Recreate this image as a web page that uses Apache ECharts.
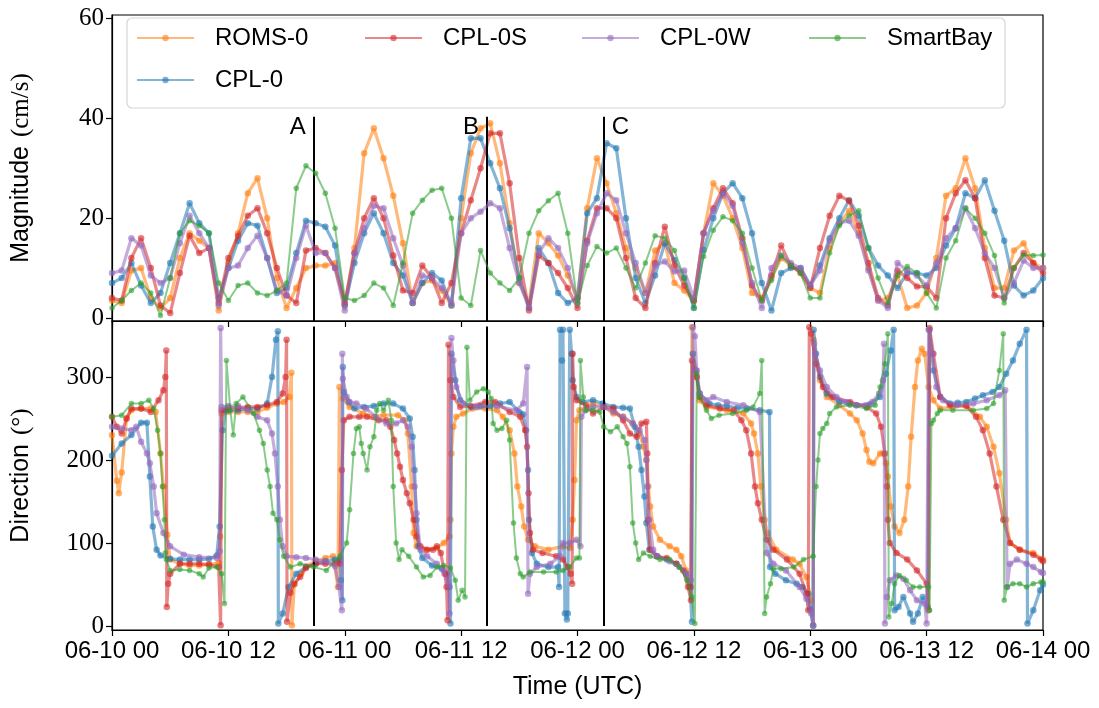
<!DOCTYPE html>
<html>
<head>
<meta charset="utf-8">
<script src="https://cdn.jsdelivr.net/npm/echarts@6/dist/echarts.min.js"></script>
</head>
<body style="margin:0;background:#fff">
<div id="chart" style="width:1099px;height:708px"></div>
<script>
// hourly sampling, hours since 06-10 00 UTC
var hours = Array.from({length: 97}, function (_, i) { return i; });
var xTickLabels = ['06-10 00', '06-10 12', '06-11 00', '06-11 12', '06-12 00',
  '06-12 12', '06-13 00', '06-13 12', '06-14 00'];
var magTicks = [0, 20, 40, 60];
var dirTicks = [0, 100, 200, 300];

// current magnitude (cm/s), hourly
var romsMag = [3.5,3,9.5,10,4,2,4,12,17,15.5,14,1.5,11,17,25,28,20,8,2,6,10,10.5,10.5,11,2.5,
  14,33,38,32,24.5,15,3,7,7.5,5.5,2.5,20,33,38,39,31,19,7,3,17,15,12.5,8.5,4,
  22,32,27,21,14,10,5,13.5,15,7,5.5,3.5,17,27,24.5,20,14,5,4,8,12,10.5,9.5,
  6,5,14,19,21.5,17,10,3.5,4,8.5,2,2.5,5,12,24.5,26,32,26,14,6,6,13.5,15,11,10];
var cplMag = [7,8,11,6.5,3,5,11,17,23,19,17,4,10,15.5,19,18.5,12,5,6,13,19.5,19,18.3,14.5,2.5,
  11,17,21,17,11,8.5,3,7,9,7.5,2.5,24,36,36,31,26,18,8,2,14,11,5,3,4,
  21,24,35,34,20,8,3,8.5,15,11.6,8,2,13.6,20,25,27,24,17,7,1.5,9,10,10,
  6.5,10.5,16,20,23.6,20.5,14,10.5,8.5,6,9,9,8.5,10,14.5,18,25,24,27.6,21.5,15.5,6.5,4.5,5.5,8];
var cplSMag = [4,3.5,12,16,10,2.5,1,9,16.5,13,14,3,12,16.5,20.5,22,17,10,4.5,3,13.5,14,13,10,3,
  13,20,24,20,12.5,5.5,5,10.5,8,3,7,17,23.6,30,37,37,27,12,1.5,12.5,11,9,6,2,
  15.5,22,22,20,12,4,2,11,18.3,10.5,6.5,3.5,17,22,26,23,16,6.5,3.5,8.5,14.5,10.5,9,
  6,14,20.5,24.5,23.5,18.5,11,4,2.5,9.5,8,6.3,6.3,4,20,25,27.6,24,12,4.5,4,10,13,11,9];
var cplWMag = [9,9.5,16,14.5,8.5,7,8,15,20.5,17,14,2.5,10,10.5,14,16.5,12,5.5,4.5,12,18.5,13,13,10,1.5,
  13,18,22.5,22,16,10.5,3,8.5,8,6,3,17,20,21.3,23,22,14,7,2,13,16,14,10,3,
  15,21,25,23.6,17,11,5,10.5,11.3,9.3,9.5,4,17,21.5,25,22.5,15,7,2,10,12.5,11,10,
  6.5,9.5,15.5,19,19.5,16.5,9.5,3.5,2,11,9.5,8.5,6.5,11,16,18,22,18,13,10,4,7,11.5,10,10];
var smartMag = [2,3.5,5.5,7,5,0.5,8,17,19.5,18.5,17,7,3.5,6.5,7,5,4.5,5.5,7,26,30.5,29,25,18,4,
  3.5,4.5,7,6,2.5,11,21,23.6,25.6,26,20,4,2.5,13.5,9,7,5.5,8,17,21.5,23.5,25,17,3,
  10.5,14.3,13,14,10,6,11,16.5,16,13.5,8,2,12.3,17.6,20.3,19.5,17,10,3.5,7.5,12.5,10.5,9,
  4,4,13,18.5,20.5,21.5,14,8,3,8.5,10.3,9,5,2,12,15.5,22,20,17,12.5,3,10,12.6,12.5,12.6];

// current direction (deg), [hour, deg]
var romsDir = [[0,230],[0.5,175],[0.7,160],[1,185],[1.5,250],[2,260],[3,262],[4,262],[4.5,258],[5,208],[5.3,168],[5.7,110],[6,80],[7,75],[8,73],[9,73],[10,74],[11,76],[11.15,108],[11.3,256],[12,258],[13,258],[14,258],[15,258],[16,263],[17,268],[17.7,270],[18.3,276],[18.5,305],[18.55,1],[18.8,50],[19.5,63],[20,72],[21,78],[22,82],[22.8,84],[23.3,47],[23.45,288],[23.8,274],[24.5,264],[25.9,256],[27,252],[28,254],[29.5,254],[30.2,248],[30.5,232],[30.9,168],[31.1,112],[31.4,96],[32.4,92],[33.5,94],[34.2,100],[34.8,108],[34.9,128],[35,208],[35.2,240],[35.5,252],[36.2,256],[37.2,262],[38.5,262],[39.7,260],[40.3,252],[41,236],[41.5,208],[41.8,168],[42.2,144],[42.5,120],[42.9,104],[43.6,96],[45,92],[46.5,96],[47.2,94],[47.5,128],[47.7,176],[47.9,248],[48.2,260],[49.6,268],[50.7,264],[51.7,256],[52.7,252],[53.7,244],[54.4,232],[54.8,216],[55.1,200],[55.3,168],[55.5,144],[55.8,120],[56.5,104],[57.5,96],[58.2,92],[58.7,84],[59.2,67],[59.7,47],[59.8,360],[59.9,328],[60.3,300],[60.6,272],[61.3,264],[63.4,260],[65.1,256],[65.9,244],[66.2,232],[66.6,208],[66.9,168],[67.3,128],[67.6,112],[68.5,92],[70.2,80],[70.9,75],[71.6,59],[72.1,31],[72.3,1],[72.35,345],[73,296],[73.7,276],[75,266],[76.1,256],[76.8,248],[77.4,232],[77.8,212],[78.1,198],[78.5,196],[79.2,208],[79.5,208],[79.8,196],[80,180],[80.3,144],[80.7,120],[81.2,112],[81.7,128],[82.1,168],[82.4,228],[82.8,288],[83.1,320],[83.5,334],[83.8,328],[84.2,288],[84.7,272],[85.4,262],[86.7,264],[88.1,266],[89.5,252],[90.2,240],[90.9,216],[91.5,184],[92.2,128],[92.6,100],[93.6,92],[95,88],[96,80]];
var cplDir = [[0,205],[1,220],[2,230],[3,245],[3.6,245],[3.9,180],[4.2,120],[4.6,92],[5,85],[6,81],[7,80],[8,80],[9,80],[10,81],[10.8,85],[11.1,120],[11.4,236],[11.7,260],[12,260],[13,260],[14,262],[15,262],[16,268],[16.5,300],[16.9,345],[17.1,355],[17.15,3],[17.6,15],[18.2,47],[19,63],[20,71],[21,75],[22,78],[23,80],[23.5,80],[23.6,55],[23.75,31],[23.8,312],[23.9,282],[24.4,270],[25,262],[26,264],[27,265],[28,268],[29,268],[30,262],[30.7,250],[31,228],[31.2,188],[31.4,128],[31.6,96],[32,82],[33,73],[34,69],[34.5,63],[34.8,47],[34.9,3],[35,328],[35.4,296],[35.9,272],[37,264],[38,265],[39,265],[40,268],[41,270],[42,258],[42.4,255],[42.7,236],[42.9,188],[43,128],[43.3,88],[43.8,75],[45,71],[46,71],[46.1,47],[46.2,357],[46.4,320],[46.5,357],[46.7,15],[46.9,8],[47,15],[47.2,357],[47.4,328],[47.5,296],[47.9,276],[48.5,270],[49.6,272],[50.6,268],[51.7,264],[52.7,263],[53.4,262],[53.9,240],[54.3,216],[54.6,188],[54.9,156],[55.1,124],[55.4,92],[56.2,84],[57.2,80],[58.2,75],[59.2,63],[59.6,47],[59.8,5],[59.9,328],[60.2,308],[60.6,280],[61.6,268],[62.5,266],[63.4,265],[64.5,263],[65.5,262],[66.8,260],[67.8,258],[67.85,71],[68.4,63],[69.5,55],[70.6,51],[71.2,47],[71.8,39],[72,20],[72.3,0],[72.35,357],[72.6,328],[73,300],[73.7,280],[75,270],[76,268],[76.8,266],[78.1,267],[79.2,276],[79.8,304],[80.3,332],[80.6,357],[80.7,19],[81.1,23],[81.6,35],[82.3,15],[82.6,5],[83.1,15],[83.6,35],[84.1,23],[84.3,357],[84.7,308],[85.4,276],[86.4,268],[87.2,269],[88.1,270],[89,274],[89.8,278],[90.8,282],[91.5,288],[92.2,304],[92.9,320],[93.6,340],[94.3,357],[94.4,3],[95,19],[95.7,43],[96,50]];
var cplSDir = [[0,252],[0.5,240],[1,232],[1.5,250],[2,262],[3,262],[4,258],[4.8,272],[5.3,284],[5.5,300],[5.6,332],[5.65,23],[5.8,51],[6,63],[7,75],[8,75],[9,75],[10,74],[11,71],[11.2,1],[11.3,260],[12,263],[13,263],[14,264],[15,264],[16,266],[17,270],[17.6,280],[17.9,300],[18,345],[18.05,5],[18.4,40],[18.8,51],[19.4,59],[20,70],[21,75],[22,75],[23,75],[23.5,75],[23.7,188],[23.9,248],[24.5,252],[25.5,252],[26.3,252],[27.5,248],[28.3,248],[28.7,240],[29.1,224],[29.4,208],[29.7,192],[30,176],[30.4,160],[30.7,148],[31.1,128],[31.4,108],[31.8,96],[32.5,92],[33.1,92],[33.5,96],[33.9,88],[34.3,63],[34.5,47],[34.6,7],[34.7,339],[34.9,296],[35.2,276],[35.9,264],[37,265],[38.5,270],[39.5,270],[41,258],[42.1,252],[42.6,236],[42.8,216],[42.95,160],[43.1,112],[43.4,92],[44.4,88],[45.8,84],[46.5,80],[47,71],[47.3,63],[47.45,51],[47.5,328],[47.6,288],[47.9,272],[48.9,266],[49.6,256],[50.7,264],[51.7,262],[52.7,248],[53.4,232],[54.1,228],[54.6,244],[55.1,246],[55.2,208],[55.3,128],[55.5,92],[56.2,84],[57.2,82],[58.2,75],[58.9,67],[59.4,47],[59.7,31],[59.8,320],[60.3,300],[60.6,276],[61.3,266],[62.7,262],[64.1,260],[64.9,248],[65.4,236],[65.9,208],[66.3,168],[66.6,148],[67,128],[67.5,104],[68.2,92],[69.6,80],[70.9,63],[71.6,39],[71.8,19],[71.9,360],[72.1,352],[72.6,316],[73.3,288],[74.3,276],[76.1,270],[77.8,264],[78.8,256],[79.3,240],[79.7,208],[79.9,168],[80,128],[80.2,100],[80.9,88],[82,80],[83,67],[84,51],[84.2,19],[84.3,359],[84.7,328],[85.4,276],[86.4,266],[88.1,265],[89.1,252],[89.8,236],[90.5,208],[91.2,168],[91.9,128],[92.6,100],[93.6,92],[95,86],[95.8,80],[96,78]];
var cplWDir = [[0,240],[1,238],[2,236],[2.5,240],[3,222],[3.6,208],[3.9,196],[4.3,168],[4.6,136],[5.3,112],[6,96],[7.4,86],[9,83],[10.8,82],[11.1,90],[11.2,359],[11.3,264],[12,265],[13,265],[14,260],[15,252],[16,248],[16.5,232],[16.8,208],[17.1,168],[17.3,128],[17.6,96],[18,84],[19,83],[20,82],[21,80],[22,78],[23,72],[23.4,47],[23.7,19],[23.75,328],[23.8,298],[24.2,276],[24.5,270],[25.2,268],[26.2,262],[27.2,252],[28.3,244],[29.3,244],[30,248],[30.5,240],[30.9,216],[31.2,168],[31.4,136],[31.8,92],[32.5,84],[33.5,75],[34.2,67],[34.7,51],[34.8,15],[35,347],[35.2,320],[35.5,288],[36.2,268],[37.6,264],[39.7,265],[41.7,260],[42.4,268],[42.8,312],[42.9,39],[43.1,63],[43.8,71],[45.2,75],[46.2,84],[46.5,100],[47.2,100],[47.9,104],[48.3,96],[48.4,252],[48.8,260],[49.6,264],[50.7,264],[51.7,258],[52.7,252],[53.7,244],[54.4,236],[54.9,224],[55.1,200],[55.2,168],[55.4,128],[55.8,92],[56.2,84],[57.5,78],[58.5,71],[59.2,63],[59.7,55],[59.9,360],[60.1,349],[60.3,308],[60.6,280],[61.3,272],[62,276],[63.4,270],[65.1,266],[66.8,258],[67.5,88],[68.2,75],[69.5,67],[70.9,47],[71.6,33],[72.1,15],[72.3,1],[72.4,340],[72.5,328],[73,308],[73.7,288],[74.7,276],[75.7,270],[76.7,266],[77.7,266],[78.4,270],[79.1,280],[79.5,296],[79.6,340],[79.7,3],[79.9,35],[80.2,55],[80.9,61],[81.6,57],[82.3,43],[83,31],[83.8,27],[84,3],[84.2,357],[84.6,328],[85,288],[85.7,272],[87.1,266],[88.8,268],[90.2,272],[91.5,278],[92.1,284],[92.3,47],[92.6,75],[93.3,80],[94.3,75],[95,71],[95.8,65],[96,64]];
var smartDir = [[0,252],[1,254],[2,268],[3,268],[3.8,272],[4.3,262],[4.7,236],[5,208],[5.2,168],[5.4,128],[5.5,88],[5.6,80],[6,67],[7,68],[8,67],[9,63],[9.4,59],[10,70],[10.8,71],[11.3,63],[11.6,27],[11.8,320],[12.2,260],[12.5,230],[12.8,268],[13.5,276],[14.6,256],[15.2,236],[15.6,220],[16,188],[16.3,168],[16.6,136],[17,128],[17.3,104],[17.7,84],[18.4,71],[19.4,75],[20.8,71],[22.1,67],[23.5,84],[24.2,100],[24.5,140],[24.9,208],[25.2,238],[25.5,240],[25.7,220],[25.9,208],[26.3,188],[26.6,216],[27,228],[27.3,260],[27.6,268],[28,260],[28.5,272],[28.8,248],[29,168],[29.3,100],[29.6,80],[29.9,92],[30.6,84],[31.4,71],[32.1,59],[32.8,61],[33.5,71],[34.2,73],[34.9,70],[35.4,55],[35.7,31],[36.1,43],[36.4,35],[36.6,336],[36.9,272],[37.6,282],[38.3,286],[38.8,282],[39.1,274],[39.3,244],[39.7,236],[40.2,238],[40.7,248],[41,224],[41.4,124],[41.7,82],[42.1,63],[42.4,59],[43.1,65],[44.5,65],[45.8,65],[46.5,67],[47.2,71],[47.9,82],[48.2,82],[48.3,320],[48.6,276],[48.9,260],[49.6,260],[50.3,258],[50.7,240],[51.4,234],[52.1,240],[52.7,228],[53.1,220],[53.4,192],[53.7,124],[54,100],[54.3,80],[54.8,88],[55.5,84],[56.5,80],[57.5,80],[58.5,71],[59.3,55],[59.8,35],[60.1,3],[60.3,304],[60.6,276],[61.3,260],[61.8,250],[62.6,254],[64,256],[65.4,260],[66.1,264],[66.8,280],[67,320],[67.3,15],[67.5,35],[67.9,51],[68.2,69],[69,69],[70.3,71],[71.3,80],[72.3,84],[72.6,168],[72.8,200],[73,232],[73.3,238],[73.7,244],[74,256],[74.7,264],[76.1,266],[77.8,262],[78.7,266],[79.2,288],[79.7,316],[80,352],[80.1,11],[80.4,27],[80.7,51],[81.2,61],[81.9,55],[82.6,47],[83.3,47],[84.2,47],[84.3,19],[84.5,244],[84.7,248],[85.1,256],[85.4,260],[86.7,260],[88.8,260],[90.2,262],[90.9,268],[91.5,308],[91.9,352],[92,31],[92.3,47],[92.9,51],[93.6,51],[94.3,47],[95,51],[95.8,53],[96,53]];

// events A, B, C
var eventHours = [20.8, 38.66, 50.7];
var eventNames = ['A', 'B', 'C'];
var eventSides = ['left', 'left', 'right'];

var names = ['ROMS-0', 'CPL-0', 'CPL-0S', 'CPL-0W', 'SmartBay'];
var colors = ['#ff7f0e', '#1f77b4', '#d62728', '#9467bd', '#2ca02c'];
var magData = [romsMag, cplMag, cplSMag, cplWMag, smartMag];
var dirData = [romsDir, cplDir, cplSDir, cplWDir, smartDir];

var sans = "'Liberation Sans', Arial, sans-serif";
var serif = "'Liberation Serif', 'DejaVu Serif', serif";

function lineSeries(i, panel) {
  var isObs = i === 4;
  var data = panel === 0
    ? hours.map(function (h, k) { return [h, magData[i][k]]; })
    : dirData[i];
  return {
    name: names[i],
    type: 'line',
    xAxisIndex: panel,
    yAxisIndex: panel,
    data: data,
    symbol: 'circle',
    symbolSize: isObs ? 5.5 : 6.5,
    showSymbol: true,
    showAllSymbol: true,
    color: colors[i],
    lineStyle: { width: isObs ? 2 : 3.2, opacity: 0.55 },
    itemStyle: { opacity: 0.6 },
    emphasis: { disabled: true },
    z: 2 + i
  };
}

var chart = echarts.init(document.getElementById('chart'));

var series = [];
for (var p = 0; p < 2; p++) {
  for (var i = 0; i < 5; i++) series.push(lineSeries(i, p));
}

// event lines drawn through the axes
series[4].markLine = {
  silent: true, symbol: 'none', animation: false,
  label: { show: false },
  lineStyle: { color: '#000', width: 2, type: 'solid', opacity: 1 },
  data: eventHours.map(function (h) { return [{ coord: [h, -0.6] }, { coord: [h, 40.3] }]; })
};
series[4].markPoint = {
  silent: true, symbol: 'rect', symbolSize: 0, animation: false,
  data: eventHours.map(function (h, k) {
    return {
      coord: [h, 38.2],
      label: {
        show: true, formatter: eventNames[k], position: eventSides[k], distance: 8,
        color: '#000', fontSize: 24, fontFamily: sans
      }
    };
  })
};
series[9].markLine = {
  silent: true, symbol: 'none', animation: false,
  label: { show: false },
  lineStyle: { color: '#000', width: 2, type: 'solid', opacity: 1 },
  data: eventHours.map(function (h) { return [{ coord: [h, 0] }, { coord: [h, 361] }]; })
};

var legendPos = [[136, 26], [136, 68], [364, 26], [581, 26], [808, 26]];
var legends = names.map(function (n, k) {
  return {
    data: [n], left: legendPos[k][0], top: legendPos[k][1], padding: 0,
    itemWidth: 57, itemHeight: 8, z: 6,
    textStyle: { fontSize: 24, fontFamily: sans, color: '#000', padding: [0, 0, 0, 16] }
  };
});

function xAxis(gridIndex, showLabel) {
  return {
    type: 'value', gridIndex: gridIndex, min: 0, max: 96, interval: 12,
    axisLine: { show: true, onZero: false, lineStyle: { color: '#000', width: 1.2 } },
    axisTick: { show: true, length: 6, lineStyle: { color: '#000', width: 1.2 } },
    axisLabel: {
      show: showLabel, color: '#000', fontSize: 24, fontFamily: sans, margin: 9,
      formatter: function (v) { return xTickLabels[Math.round(v / 12)]; }
    },
    splitLine: { show: false },
    name: showLabel ? 'Time (UTC)' : '',
    nameLocation: 'middle', nameGap: 45,
    nameTextStyle: { color: '#000', fontSize: 25, fontFamily: sans }
  };
}

function yAxis(gridIndex, min, max, ticks, nameWord, nameUnit) {
  return {
    type: 'value', gridIndex: gridIndex, min: min, max: max,
    axisLine: { show: true, lineStyle: { color: '#000', width: 1.2 } },
    axisTick: { show: true, length: 6, customValues: ticks, lineStyle: { color: '#000', width: 1.2 } },
    axisLabel: { color: '#000', fontSize: 25, fontFamily: serif, margin: 8, customValues: ticks },
    splitLine: { show: false },
    name: '{a|' + nameWord + '}{b|' + nameUnit + '}',
    nameLocation: 'middle', nameRotate: 90, nameGap: 78,
    nameTextStyle: {
      rich: {
        a: { fontSize: 25, fontFamily: sans, color: '#000', padding: [0, 9, 0, 0] },
        b: { fontSize: 25, fontFamily: serif, color: '#000' }
      }
    }
  };
}

chart.setOption({
  animation: false,
  backgroundColor: '#fff',
  grid: [
    { left: 112, right: 56, top: 15, height: 306, show: true, borderColor: '#000', borderWidth: 1.2 },
    { left: 112, right: 56, top: 321, height: 309, show: true, borderColor: '#000', borderWidth: 1.2 }
  ],
  xAxis: [xAxis(0, false), xAxis(1, true)],
  yAxis: [
    yAxis(0, -0.6, 60.7, magTicks, 'Magnitude', '(cm/s)'),
    yAxis(1, -4.8, 367.5, dirTicks, 'Direction', '(\u00b0)')
  ],
  legend: legends,
  graphic: [{
    type: 'rect', z: 5, silent: true,
    shape: { x: 127, y: 18, width: 878, height: 90, r: 5 },
    style: { fill: 'rgba(255,255,255,0.85)', stroke: '#d6d6d6', lineWidth: 1.2 }
  }],
  series: series
});
</script>
</body>
</html>
